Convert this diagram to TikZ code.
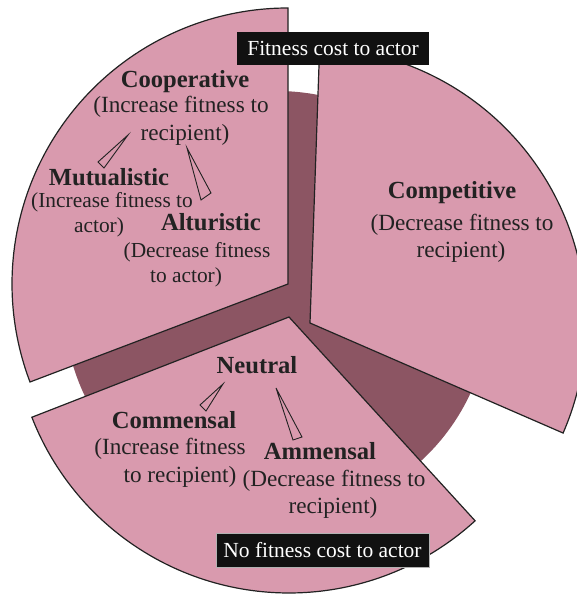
\documentclass[tikz,border=0pt]{standalone}
\usepackage{fontspec}
\setmainfont{Liberation Serif}
\definecolor{pinkfill}{HTML}{D99AAE}
\definecolor{darkdisk}{HTML}{8C5563}
\definecolor{inkgray}{HTML}{222222}
\definecolor{boxblack}{HTML}{111111}
\begin{document}
\begin{tikzpicture}[x=1pt,y=1pt,
  sector/.style={fill=pinkfill,draw=inkgray,line width=1.2pt,line join=miter},
  ttl/.style={anchor=base,inner sep=0pt,text=inkgray,font=\fontsize{24.6}{26}\selectfont\bfseries},
  txt/.style={anchor=base,inner sep=0pt,text=inkgray,font=\fontsize{23.2}{26}\selectfont},
  smalltxt/.style={anchor=base,inner sep=0pt,text=inkgray,font=\fontsize{21.4}{24}\selectfont},
  wedge/.style={fill=pinkfill,draw=inkgray,line width=0.9pt,line join=miter},
  blackbox/.style={fill=boxblack,text=white,inner sep=0pt,font=\fontsize{21.5}{24}\selectfont}]
\useasboundingbox (0,0) rectangle (577,594);
\clip (0,0) rectangle (577,594);
% dark base disk
\fill[darkdisk] (277,290) circle[radius=213pt];
% sectors
\coordinate (A1) at (288,310);
\coordinate (A2) at (310,271);
\coordinate (A3) at (289,277);
\draw[sector] (A1) -- ++(90:276pt) arc[start angle=90,end angle=200.8,radius=276pt] -- cycle;
\draw[sector] (A2) -- ++(-23.5:276pt) arc[start angle=-23.5,end angle=88,radius=276pt] -- cycle;
\draw[sector] (A3) -- ++(201.3:276pt) arc[start angle=201.3,end angle=312.4,radius=276pt] -- cycle;
% cooperative block
\node[ttl] (coop) at (185,506) {Cooperative};
\node[txt] (coop1) at (181,481) {(Increase fitness to};
\node[txt] (coop2) at (185,453) {recipient)};
\node[ttl] (mutu) at (109,408) {Mutualistic};
\node[smalltxt] (mutu1) at (112,386) {(Increase fitness to};
\node[smalltxt] (mutu2) at (99,361) {actor)};
\node[ttl] (altu) at (211,363) {Alturistic};
\node[smalltxt] (altu1) at (197,336) {(Decrease fitness};
\node[smalltxt] (altu2) at (186,311) {to actor)};
% competitive block
\node[ttl] (comp) at (452,395) {Competitive};
\node[txt] (comp1) at (462,363) {(Decrease fitness to};
\node[txt] (comp2) at (461,336) {recipient)};
% neutral block
\node[ttl] (neut) at (257,220) {Neutral};
\node[ttl] (comm) at (174,165) {Commensal};
\node[txt] (comm1) at (170,139) {(Increase fitness};
\node[txt] (comm2) at (180,111) {to recipient)};
\node[ttl] (amme) at (320,134) {Ammensal};
\node[txt] (amme1) at (334,107) {(Decrease fitness to};
\node[txt] (amme2) at (333,80) {recipient)};
% wedges
\draw[wedge] (128,459) -- (98,432) -- (104,426) -- cycle;
\draw[wedge] (187,446) -- (201,394) -- (211,401) -- cycle;
\draw[wedge] (223,210) -- (200,189) -- (206,183) -- cycle;
\draw[wedge] (276,206) -- (293,154) -- (302,157) -- cycle;
% black labels
\node[blackbox,minimum width=192pt,minimum height=33pt] (cost) at (333,545.5) {Fitness cost to actor};
\node[blackbox,minimum width=213pt,minimum height=34pt,draw=gray!60,line width=0.6pt] (nocost) at (322.5,44) {No fitness cost to actor};
\end{tikzpicture}
\end{document}
